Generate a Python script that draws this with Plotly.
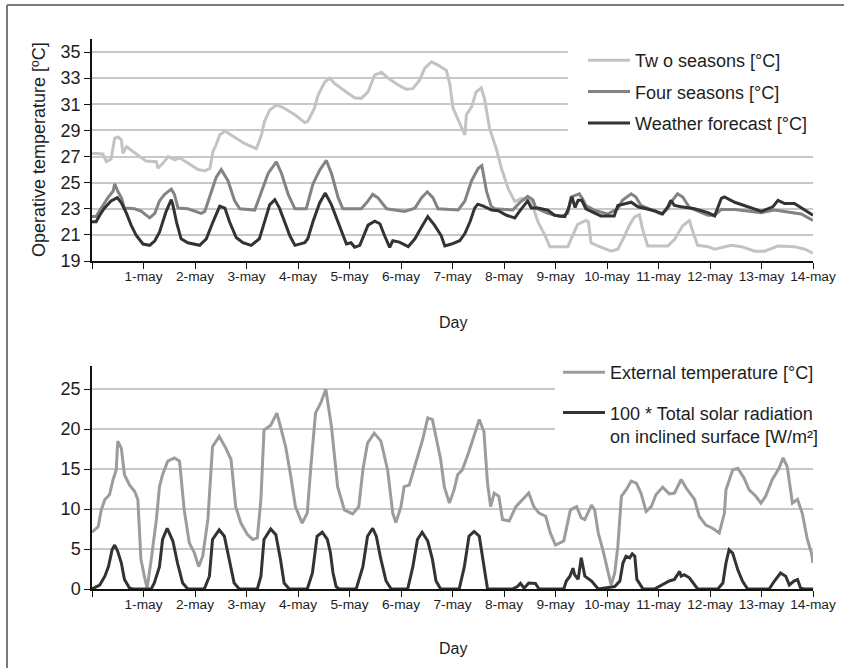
import plotly.graph_objects as go

# ---------------- data (time in days from 30-apr 00:00) ----------------
two_t = [0, 0.21, 0.28, 0.37, 0.44, 0.50, 0.57, 0.60, 0.67, 0.76, 0.96, 1.05, 1.25, 1.28, 1.38, 1.48, 1.61, 1.70,
         1.86, 2.06, 2.19, 2.29, 2.35, 2.41, 2.48, 2.58, 2.70, 2.96, 3.19, 3.29, 3.35, 3.45, 3.58, 3.71, 3.94, 4.13,
         4.19, 4.32, 4.39, 4.52, 4.62, 4.71, 4.97, 5.10, 5.23, 5.36, 5.49, 5.62, 5.75, 5.94, 6.10, 6.23, 6.36, 6.46,
         6.59, 6.72, 6.88, 6.95, 7.01, 7.11, 7.24, 7.27, 7.37, 7.46, 7.56, 7.62, 7.72, 7.85, 7.95, 8.08, 8.21, 8.34,
         8.53, 8.66, 8.79, 8.89, 9.24, 9.34, 9.43, 9.59, 9.64, 9.69, 9.82, 10.08, 10.21, 10.34, 10.43, 10.53, 10.63,
         10.69, 10.79, 11.18, 11.31, 11.47, 11.60, 11.67, 11.76, 11.96, 12.09, 12.41, 12.61, 12.87, 13.06, 13.32,
         13.64, 13.84, 14.0]
two_v = [27.25, 27.2, 26.6, 26.8, 28.4, 28.5, 28.3, 27.25, 27.75, 27.5, 26.9, 26.65, 26.6, 26.1, 26.5, 27.0, 26.75,
         26.9, 26.5, 26.0, 25.9, 26.1, 27.4, 27.9, 28.65, 28.95, 28.65, 28.0, 27.6, 28.65, 29.7, 30.55, 30.95, 30.75,
         30.2, 29.6, 29.7, 30.7, 31.7, 32.7, 33.0, 32.6, 31.85, 31.5, 31.45, 31.95, 33.25, 33.45, 33.0, 32.5, 32.15,
         32.2, 32.85, 33.75, 34.25, 34.0, 33.6, 32.5, 30.7, 29.8, 28.65, 30.2, 30.8, 31.95, 32.25, 31.45, 29.15, 27.6,
         26.1, 24.55, 23.55, 23.8, 23.55, 22.0, 21.0, 20.1, 20.1, 21.0, 21.8, 22.1, 22.0, 20.4, 20.15, 19.75, 19.9,
         20.9, 21.7, 22.35, 22.55, 21.45, 20.15, 20.15, 20.65, 21.7, 22.1, 21.2, 20.2, 20.1, 19.9, 20.2, 20.1, 19.75,
         19.75, 20.15, 20.1, 19.9, 19.6]

four_t = [0, 0.08, 0.18, 0.31, 0.41, 0.44, 0.50, 0.57, 0.63, 0.83, 0.96, 1.12, 1.22, 1.31, 1.41, 1.54, 1.60, 1.67,
          1.86, 2.12, 2.19, 2.32, 2.41, 2.51, 2.64, 2.77, 2.87, 3.16, 3.29, 3.42, 3.58, 3.68, 3.81, 3.94, 4.16, 4.29,
          4.42, 4.55, 4.65, 4.78, 4.87, 5.23, 5.36, 5.45, 5.55, 5.65, 5.72, 6.07, 6.27, 6.40, 6.51, 6.62, 6.72, 7.11,
          7.24, 7.37, 7.50, 7.57, 7.66, 7.75, 7.82, 8.17, 8.30, 8.46, 8.56, 8.62, 8.85, 9.11, 9.24, 9.30, 9.46, 9.52,
          9.59, 9.75, 10.01, 10.21, 10.30, 10.47, 10.56, 10.66, 11.05, 11.18, 11.27, 11.37, 11.47, 11.60, 11.96,
          12.09, 12.22, 12.48, 13.0, 13.25, 13.77, 14.0]
four_v = [22.4, 22.4, 23.05, 23.85, 24.35, 24.9, 24.35, 23.85, 23.05, 23.0, 22.8, 22.3, 22.65, 23.6, 24.1, 24.5, 24.1,
          23.05, 23.0, 22.65, 22.8, 24.35, 25.4, 26.0, 25.15, 23.6, 23.0, 22.9, 24.35, 25.7, 26.6, 25.7, 24.1, 23.0,
          23.0, 24.9, 25.95, 26.7, 25.7, 23.85, 23.0, 23.0, 23.6, 24.1, 23.85, 23.3, 23.0, 22.8, 23.05, 23.85, 24.3,
          23.85, 23.0, 22.9, 23.6, 25.15, 26.1, 26.3, 24.35, 23.2, 23.0, 22.9, 23.45, 23.95, 23.7, 23.05, 22.65, 22.4,
          22.65, 23.9, 24.15, 23.8, 23.25, 22.9, 22.6, 23.0, 23.65, 24.15, 23.9, 23.25, 22.6, 23.0, 23.65, 24.15, 23.9,
          23.1, 22.5, 22.5, 22.95, 22.95, 22.7, 22.9, 22.6, 22.1]

fc_t = [0, 0.08, 0.15, 0.24, 0.37, 0.49, 0.57, 0.67, 0.76, 0.86, 0.99, 1.12, 1.22, 1.31, 1.44, 1.54, 1.57, 1.64, 1.73,
        1.86, 2.09, 2.22, 2.35, 2.48, 2.58, 2.67, 2.80, 2.93, 3.09, 3.25, 3.35, 3.45, 3.55, 3.64, 3.74, 3.84, 3.94,
        4.13, 4.19, 4.29, 4.42, 4.53, 4.65, 4.78, 4.87, 4.94, 5.03, 5.10, 5.20, 5.26, 5.36, 5.49, 5.59, 5.68, 5.78,
        5.84, 5.97, 6.14, 6.27, 6.40, 6.52, 6.65, 6.78, 6.85, 6.98, 7.14, 7.24, 7.34, 7.43, 7.49, 7.60, 7.76, 7.89,
        8.05, 8.21, 8.30, 8.46, 8.53, 8.66, 8.85, 8.98, 9.18, 9.25, 9.32, 9.38, 9.44, 9.51, 9.59, 9.72, 9.88, 10.14,
        10.21, 10.37, 10.47, 10.60, 10.92, 11.08, 11.18, 11.24, 11.31, 11.44, 11.70, 11.96, 12.09, 12.22, 12.28,
        12.48, 12.74, 13.0, 13.22, 13.32, 13.45, 13.64, 13.84, 14.0]
fc_v = [22.0, 22.0, 22.5, 23.05, 23.6, 23.85, 23.45, 22.65, 21.75, 20.95, 20.3, 20.2, 20.55, 21.2, 22.8, 23.7, 23.3,
        22.0, 20.7, 20.4, 20.2, 20.7, 22.0, 23.2, 23.05, 22.0, 20.8, 20.4, 20.2, 20.7, 22.0, 23.3, 23.7, 23.05, 22.0,
        20.95, 20.2, 20.4, 20.7, 22.0, 23.45, 24.2, 23.3, 22.0, 20.95, 20.3, 20.4, 20.05, 20.2, 20.8, 21.75, 22.05,
        21.85, 20.95, 20.05, 20.55, 20.45, 20.1, 20.7, 21.6, 22.4, 21.75, 20.95, 20.15, 20.3, 20.55, 21.1, 22.0,
        23.05, 23.35, 23.2, 22.9, 22.85, 22.5, 22.3, 22.8, 23.6, 23.05, 23.05, 22.9, 22.5, 22.4, 23.0, 23.9, 23.1,
        23.65, 23.65, 23.0, 22.75, 22.45, 22.45, 23.25, 23.4, 23.5, 23.15, 22.85, 22.6, 23.15, 23.65, 23.25, 23.15,
        23.0, 22.7, 22.45, 23.8, 23.9, 23.5, 23.15, 22.8, 23.15, 23.65, 23.4, 23.4, 22.9, 22.5]

ext_t = [0, 0.12, 0.18, 0.25, 0.34, 0.41, 0.47, 0.50, 0.57, 0.63, 0.73, 0.83, 0.89, 0.95, 1.03, 1.07, 1.15, 1.25,
         1.31, 1.37, 1.47, 1.60, 1.70, 1.79, 1.89, 1.99, 2.07, 2.15, 2.25, 2.34, 2.47, 2.60, 2.70, 2.79, 2.89, 3.02,
         3.12, 3.21, 3.28, 3.34, 3.47, 3.59, 3.66, 3.76, 3.86, 3.95, 4.08, 4.18, 4.25, 4.34, 4.44, 4.54, 4.65, 4.77,
         4.90, 5.06, 5.18, 5.26, 5.35, 5.48, 5.61, 5.74, 5.84, 5.90, 6.0, 6.06, 6.16, 6.29, 6.42, 6.52, 6.61, 6.77,
         6.84, 6.94, 7.03, 7.10, 7.19, 7.32, 7.52, 7.61, 7.68, 7.74, 7.81, 7.90, 7.97, 8.10, 8.23, 8.48, 8.58, 8.68,
         8.81, 8.90, 9.0, 9.16, 9.29, 9.41, 9.50, 9.57, 9.70, 9.76, 9.83, 9.92, 10.02, 10.08, 10.15, 10.21, 10.28,
         10.37, 10.47, 10.57, 10.66, 10.76, 10.86, 10.95, 11.08, 11.21, 11.31, 11.44, 11.54, 11.70, 11.79, 11.92,
         12.05, 12.18, 12.28, 12.31, 12.44, 12.54, 12.66, 12.76, 12.89, 12.99, 13.08, 13.21, 13.34, 13.42, 13.50,
         13.60, 13.70, 13.79, 13.89, 13.97, 14.0]
ext_v = [7.1, 7.8, 9.9, 11.2, 11.8, 13.7, 14.9, 18.5, 17.6, 14.3, 13.0, 12.2, 11.2, 3.7, 1.2, 0.1, 3.7, 8.7, 12.8,
         14.3, 16.0, 16.4, 16.0, 9.9, 5.75, 4.5, 2.8, 4.1, 8.7, 17.8, 19.1, 17.6, 16.2, 10.3, 8.25, 6.8, 6.2, 6.4,
         11.2, 19.9, 20.5, 22.0, 20.3, 17.8, 14.1, 10.3, 8.25, 9.5, 15.3, 22.0, 23.25, 25.0, 20.3, 12.8, 9.9, 9.4,
         10.3, 14.9, 18.25, 19.5, 18.5, 14.9, 9.5, 8.3, 10.3, 12.8, 13.0, 15.75, 18.7, 21.4, 21.2, 16.2, 12.8, 10.75,
         12.4, 14.3, 14.9, 17.2, 21.2, 19.7, 13.25, 10.3, 12.0, 11.6, 8.7, 8.5, 10.3, 12.0, 10.3, 9.5, 9.1, 7.0, 5.5,
         6.0, 9.9, 10.3, 8.9, 8.7, 10.5, 9.9, 7.0, 4.9, 2.0, 0.5, 2.0, 5.3, 11.6, 12.4, 13.5, 13.25, 12.0, 9.7, 10.3,
         11.8, 12.75, 11.9, 12.0, 13.7, 12.6, 11.2, 9.1, 8.0, 7.6, 7.0, 9.5, 12.4, 14.9, 15.1, 13.9, 12.4, 11.6,
         10.75, 11.6, 13.7, 15.1, 16.4, 15.3, 10.75, 11.2, 9.5, 6.2, 4.5, 3.25]

sol_t = [0, 0.15, 0.25, 0.32, 0.39, 0.44, 0.50, 0.57, 0.63, 0.73, 0.80, 1.15, 1.21, 1.31, 1.37, 1.46, 1.57, 1.66,
         1.76, 1.86, 2.18, 2.28, 2.34, 2.47, 2.57, 2.66, 2.76, 2.86, 3.21, 3.28, 3.34, 3.47, 3.57, 3.66, 3.73, 3.83,
         4.18, 4.28, 4.37, 4.47, 4.57, 4.63, 4.68, 4.74, 4.80, 5.13, 5.26, 5.35, 5.45, 5.52, 5.61, 5.71, 5.81, 6.13,
         6.23, 6.32, 6.41, 6.52, 6.61, 6.68, 6.77, 7.13, 7.23, 7.32, 7.42, 7.52, 7.61, 7.68, 8.16, 8.26, 8.32, 8.39,
         8.48, 8.61, 8.68, 9.16, 9.21, 9.28, 9.34, 9.37, 9.44, 9.50, 9.57, 9.70, 9.83, 10.15, 10.25, 10.31, 10.37,
         10.44, 10.49, 10.54, 10.58, 10.66, 10.70, 10.92, 11.08, 11.21, 11.31, 11.41, 11.44, 11.50, 11.60, 11.70,
         11.76, 12.15, 12.25, 12.31, 12.37, 12.44, 12.54, 12.63, 12.73, 13.15, 13.25, 13.37, 13.47, 13.54, 13.63,
         13.70, 13.76, 13.83, 14.0]
sol_v = [0, 0.5, 1.6, 2.8, 4.9, 5.5, 4.7, 3.25, 1.2, 0.1, 0, 0, 0.75, 2.8, 6.2, 7.6, 6.0, 3.25, 0.75, 0, 0, 1.6, 6.2,
         7.4, 6.6, 3.7, 0.75, 0, 0, 1.6, 6.2, 7.5, 6.8, 3.7, 0.75, 0, 0, 2.0, 6.6, 7.1, 6.2, 4.5, 2.0, 0.3, 0, 0, 2.8,
         6.6, 7.6, 6.6, 3.7, 1.0, 0, 0, 2.8, 6.2, 7.1, 6.0, 3.7, 1.0, 0, 0, 2.8, 6.6, 7.2, 6.6, 2.8, 0, 0, 0.3, 0.7,
         0.1, 0.75, 0.7, 0, 0, 1.0, 1.6, 2.6, 1.8, 1.2, 3.9, 1.6, 1.0, 0, 0.3, 1.0, 3.25, 4.1, 3.9, 4.4, 4.1, 1.2, 0.3,
         0, 0, 0.5, 1.0, 1.2, 2.2, 1.6, 1.8, 1.4, 0.5, 0, 0, 0.75, 3.25, 4.9, 4.5, 2.4, 1.0, 0, 0, 1.0, 2.0, 1.6, 0.5,
         1.0, 1.2, 0.1, 0, 0]

day_ticks = list(range(15))
day_labels = [""] + [f"{d}-may" for d in range(1, 15)]

top_ticks = [19, 21, 23, 25, 27, 29, 31, 33, 35]
bot_ticks = [0, 5, 10, 15, 20, 25]

# ---------------- layout helpers ----------------
W, H = 844, 668
def px(x):
    return x / W
def py(y):
    return 1 - y / H

FONT = "Liberation Sans, Arial, sans-serif"
TXT = "#1e1e1e"

fig = go.Figure()

fig.add_trace(go.Scatter(x=two_t, y=two_v, mode="lines", name="Tw o seasons [°C]",
                         line=dict(color="#c3c3c3", width=3), xaxis="x", yaxis="y",
                         legend="legend", legendgroup="a"))
fig.add_trace(go.Scatter(x=four_t, y=four_v, mode="lines", name="Four seasons [°C]",
                         line=dict(color="#838383", width=3), xaxis="x", yaxis="y",
                         legend="legend", legendgroup="b"))
fig.add_trace(go.Scatter(x=fc_t, y=fc_v, mode="lines", name="Weather forecast [°C]",
                         line=dict(color="#333333", width=3), xaxis="x", yaxis="y",
                         legend="legend", legendgroup="c"))
fig.add_trace(go.Scatter(x=ext_t, y=ext_v, mode="lines", name="External temperature [°C]",
                         line=dict(color="#9c9c9c", width=3), xaxis="x2", yaxis="y2",
                         legend="legend2", legendgroup="d"))
fig.add_trace(go.Scatter(x=sol_t, y=sol_v, mode="lines",
                         name="100 * Total solar radiation<br>on inclined surface [W/m²]",
                         line=dict(color="#333333", width=3), xaxis="x2", yaxis="y2",
                         legend="legend2", legendgroup="e"))

xdom = [px(92), px(813)]
axis_common = dict(showline=True, linecolor="#111111", linewidth=1.5, ticks="outside", ticklen=6,
                   tickcolor="#111111", tickwidth=1.2, zeroline=False, automargin=False)

xa = dict(axis_common, domain=xdom, range=[0, 14], tickmode="array", tickvals=day_ticks,
          ticktext=day_labels, showgrid=False, ticklabelstandoff=-4,
          tickfont=dict(family=FONT, size=13.7, color=TXT))
ya_grid = dict(showgrid=True, gridcolor="#c8c8c8", gridwidth=1.5)

fig.update_layout(
    width=W, height=H, template="none",
    margin=dict(l=0, r=0, t=0, b=0),
    paper_bgcolor="white", plot_bgcolor="white",
    font=dict(family=FONT, color=TXT),
    xaxis=dict(xa, anchor="y"),
    yaxis=dict(axis_common, **ya_grid, domain=[py(261), py(39)], range=[19, 36], tickmode="array",
               tickvals=top_ticks, tickfont=dict(family=FONT, size=18, color=TXT), anchor="x"),
    xaxis2=dict(xa, anchor="y2"),
    yaxis2=dict(axis_common, **ya_grid, domain=[py(589), py(366)], range=[0, 27.9], tickmode="array",
                tickvals=bot_ticks, tickfont=dict(family=FONT, size=18, color=TXT), anchor="x2"),
    legend=dict(x=px(583), y=py(42), xanchor="left", yanchor="top", bgcolor="rgba(0,0,0,0)",
                font=dict(family=FONT, size=18, color=TXT), itemwidth=42, tracegroupgap=5,
                traceorder="grouped"),
    legend2=dict(x=px(558), y=py(354), xanchor="left", yanchor="top", bgcolor="rgba(0,0,0,0)",
                 font=dict(family=FONT, size=18, color=TXT), itemwidth=42, tracegroupgap=14,
                 traceorder="grouped", valign="top"),
    showlegend=True,
)

# white patches behind the legends (hide gridlines there)
fig.add_shape(type="rect", xref="x", yref="y", x0=9.24, x1=14.5, y0=27.9, y1=37,
              fillcolor="white", line=dict(width=0), layer="between")
fig.add_shape(type="rect", xref="x2", yref="y2", x0=8.99, x1=14.5, y0=17.4, y1=30,
              fillcolor="white", line=dict(width=0), layer="between")

# outer frame (left and top edges)
fig.add_shape(type="line", xref="paper", yref="paper", x0=px(7), x1=1.02, y0=py(5), y1=py(5),
              line=dict(color="#7a7a7a", width=2))
fig.add_shape(type="line", xref="paper", yref="paper", x0=px(7), x1=px(7), y0=py(5), y1=-0.02,
              line=dict(color="#7a7a7a", width=2))

# axis titles
fig.add_annotation(text="Operative temperature [ºC]", xref="paper", yref="paper", x=px(39), y=py(150),
                   textangle=-90, showarrow=False, font=dict(family=FONT, size=18, color=TXT),
                   xanchor="center", yanchor="middle")
fig.add_annotation(text="Day", xref="paper", yref="paper", x=px(453), y=py(322), showarrow=False,
                   font=dict(family=FONT, size=16, color=TXT), xanchor="center", yanchor="middle")
fig.add_annotation(text="Day", xref="paper", yref="paper", x=px(453), y=py(648), showarrow=False,
                   font=dict(family=FONT, size=16, color=TXT), xanchor="center", yanchor="middle")

fig.write_html("out.html", config={"displayModeBar": False},
               post_script="document.documentElement.style.margin='0';"
                           "document.documentElement.style.overflow='hidden';"
                           "document.body.style.margin='0';document.body.style.overflow='hidden';")
